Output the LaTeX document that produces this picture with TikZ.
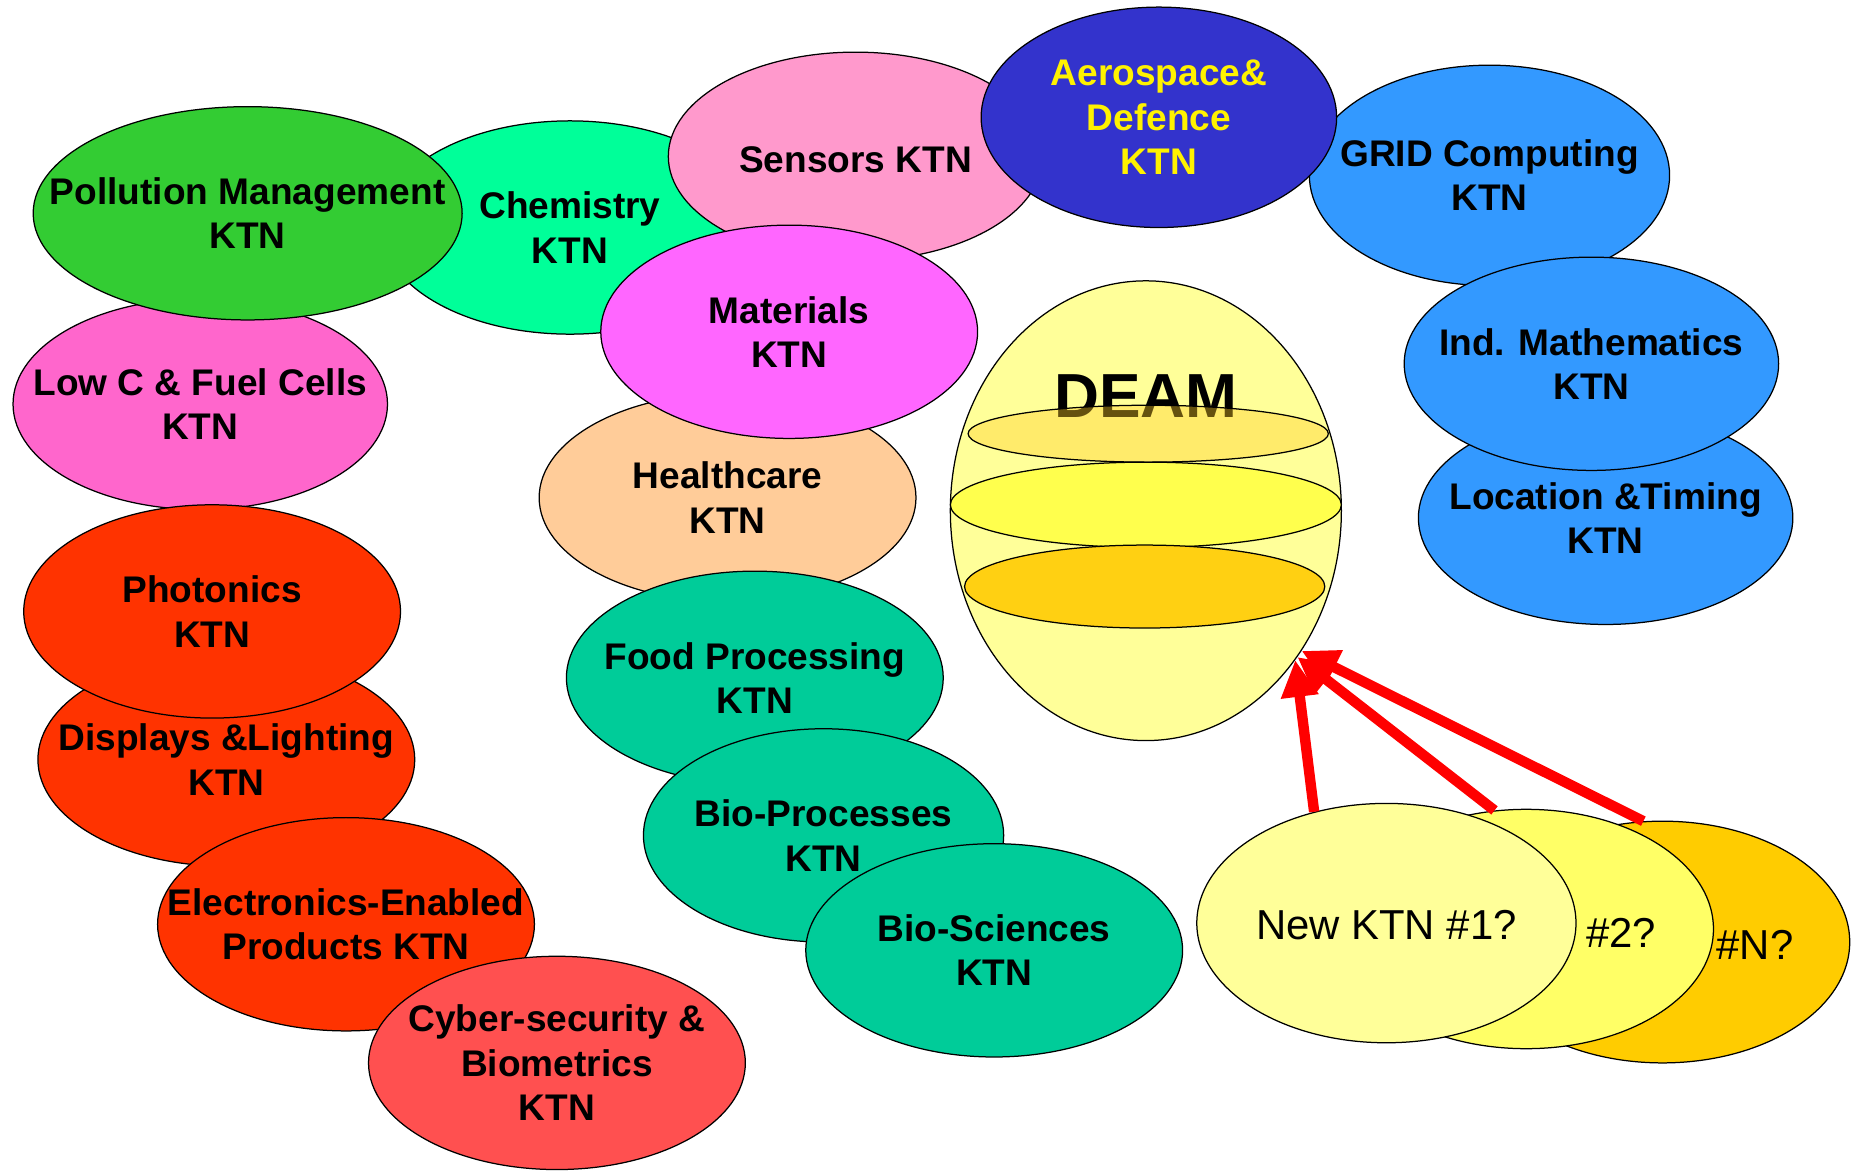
\documentclass[tikz,border=0pt]{standalone}
\usepackage{fontspec}
\setmainfont{Liberation Sans}
\usepackage{tikz}
\usetikzlibrary{arrows.meta,shapes.geometric}

\definecolor{pollgreen}{HTML}{33CC33}
\definecolor{chemgreen}{HTML}{00FF99}
\definecolor{senspink}{HTML}{FF99CC}
\definecolor{aeroblue}{HTML}{3333CC}
\definecolor{gridblue}{HTML}{3399FF}
\definecolor{lowpink}{HTML}{FF66CC}
\definecolor{matpink}{HTML}{FF66FF}
\definecolor{healthpeach}{HTML}{FFCC99}
\definecolor{photred}{HTML}{FF3300}
\definecolor{cyberred}{HTML}{FF5050}
\definecolor{biogreen}{HTML}{00CC99}
\definecolor{deamyellow}{HTML}{FFFF99}
\definecolor{layerone}{HTML}{FFCD26}
\definecolor{layertwo}{HTML}{FFFF4D}
\definecolor{layerthree}{HTML}{FFD012}
\definecolor{newtwo}{HTML}{FFFF66}
\definecolor{newn}{HTML}{FFCC00}

\begin{document}
\begin{tikzpicture}[
	ktn/.style={ellipse, draw=black, line width=0.6pt, inner sep=0pt, minimum width=6.36cm, minimum height=3.6cm},
	ktntext/.style={font=\fontsize{17.8}{21.3}\selectfont\bfseries, align=center},
	newtext/.style={font=\fontsize{20.1}{24}\selectfont},
	push/.style={draw=red, line width=5pt, -{Triangle[length=6.2mm,width=6mm]}}]
\useasboundingbox (0,0) rectangle (31.36,-19.78);

\node[ktn, fill=chemgreen](Chem) at (9.62,-3.84) {};
\node[ktntext](ChemT) at (Chem) {Chemistry\\KTN};
\node[ktn, fill=senspink, minimum width=6.32cm, minimum height=3.52cm](Sens) at (14.44,-2.64) {};
\node[ktntext](SensT) at (14.44,-2.70) {Sensors KTN};
\node[ktn, fill=gridblue, minimum width=6.08cm, minimum height=3.72cm](Grid) at (25.14,-2.96) {};
\node[ktntext](GridT) at (Grid) {GRID Computing\\KTN};
\node[ktn, fill=aeroblue, minimum width=6cm, minimum height=3.72cm](Aero) at (19.56,-1.98) {};
\node[ktntext, text=yellow](AeroT) at (Aero) {Aerospace\&\\Defence\\KTN};
\node[ktn, fill=gridblue, minimum width=6.32cm](Loc) at (27.10,-8.74) {};
\node[ktntext](LocT) at (Loc) {Location \&Timing\\KTN};
\node[ktn, fill=gridblue, minimum width=6.32cm](Math) at (26.86,-6.14) {};
\node[ktntext](MathT) at (Math) {Ind. Mathematics\\KTN};

\node[ktn, fill=lowpink, minimum width=6.32cm, minimum height=3.56cm](LowC) at (3.38,-6.82) {};
\node[ktntext](LowCT) at (LowC) {Low C \& Fuel Cells\\KTN};
\node[ktn, fill=pollgreen, minimum width=7.24cm](Poll) at (4.18,-3.60) {};
\node[ktntext](PollT) at (Poll) {Pollution Management\\KTN};

\node[ktn, fill=healthpeach, minimum height=3.52cm](Health) at (12.28,-8.40) {};
\node[ktntext](HealthT) at (Health) {Healthcare\\KTN};
\node[ktn, fill=matpink](Mat) at (13.32,-5.60) {};
\node[ktntext](MatT) at (Mat) {Materials\\KTN};

\node[ktn, fill=photred](Disp) at (3.82,-12.82) {};
\node[ktntext](DispT) at (Disp) {Displays \&Lighting\\KTN};
\node[ktn, fill=photred](Phot) at (3.58,-10.32) {};
\node[ktntext](PhotT) at (Phot) {Photonics\\KTN};
\node[ktn, fill=photred](Elec) at (5.84,-15.60) {};
\node[ktntext](ElecT) at (Elec) {Electronics-Enabled\\Products KTN};
\node[ktn, fill=cyberred](Cyber) at (9.40,-17.94) {};
\node[ktntext](CyberT) at (Cyber) {Cyber-security \&\\Biometrics\\KTN};

\node[ktn, fill=biogreen](Food) at (12.74,-11.44) {};
\node[ktntext](FoodT) at (Food) {Food Processing\\KTN};
\node[ktn, fill=biogreen, minimum width=6.08cm](Proc) at (13.90,-14.10) {};
\node[ktntext](ProcT) at (Proc) {Bio-Processes\\KTN};
\node[ktn, fill=biogreen](Sci) at (16.78,-16.04) {};
\node[ktntext](SciT) at (Sci) {Bio-Sciences\\KTN};

\node[ktn, fill=deamyellow, minimum width=6.6cm, minimum height=7.76cm](DEAM) at (19.34,-8.62) {};
\node[font=\fontsize{29.9}{34}\selectfont\bfseries, text=black](DEAMT) at (19.34,-6.68) {DEAM};
\node[ktn, fill=layerone, fill opacity=0.4, minimum width=6.08cm, minimum height=0.96cm](LayA) at (19.38,-7.32) {};
\node[ktn, fill=layertwo, minimum width=6.6cm, minimum height=1.44cm](LayB) at (19.34,-8.52) {};
\node[ktn, fill=layerthree, minimum width=6.08cm, minimum height=1.40cm](LayC) at (19.32,-9.90) {};

\node[ktn, fill=newn, minimum width=6.32cm, minimum height=4.08cm](NewN) at (28.06,-15.90) {};
\node[newtext](NewNT) at (29.62,-15.94) {\#N?};
\node[ktn, fill=newtwo, minimum width=6.32cm, minimum height=4.04cm](New2) at (25.76,-15.68) {};
\node[newtext](New2T) at (27.36,-15.74) {\#2?};
\node[ktn, fill=deamyellow, minimum width=6.4cm, minimum height=4.04cm](New1) at (23.40,-15.58) {};
\node[newtext](New1T) at (23.40,-15.62) {New KTN \#1?};

	\draw[push] (NewN.99) -- (DEAM.-42);
	\draw[push] (New2.105) -- (DEAM.-44);
	\draw[push] (New1.123) -- (DEAM.-45.5);
\end{tikzpicture}
\end{document}
